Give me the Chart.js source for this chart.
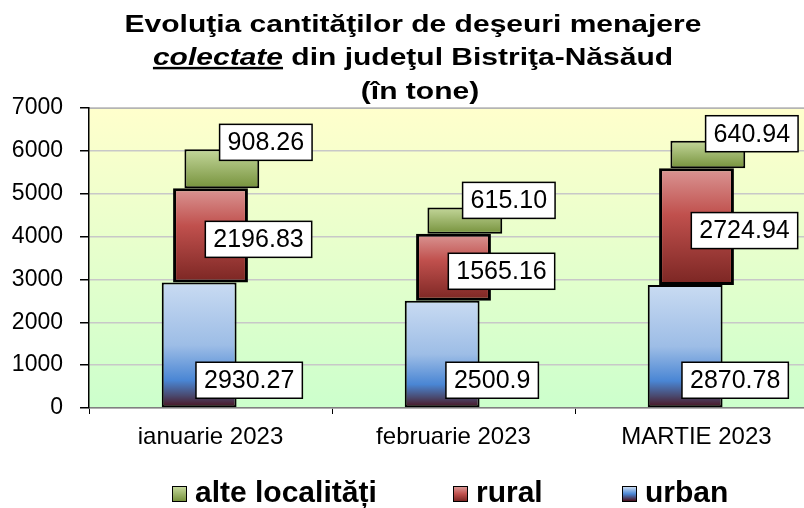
<!DOCTYPE html>
<html>
<head>
<meta charset="utf-8">
<script src="https://cdn.jsdelivr.net/npm/chart.js@4/dist/chart.umd.min.js"></script>
<style>
  html, body { margin: 0; padding: 0; background: #fff; overflow: hidden; }
  body { width: 804px; height: 508px; position: relative; font-family: "Liberation Sans", Arial, sans-serif; }
  canvas { position: absolute; left: 0; top: 0; }
  .title { position: absolute; left: 0; top: 7px; width: 826px; text-align: center;
           font-weight: bold; font-size: 30px; line-height: 40.8px; color: #000;
           transform: scaleY(0.82); transform-origin: top center; }
  .title u { font-style: italic; font-weight: bold; }
  .legend { position: absolute; top: 477px; font-weight: bold; font-size: 30px; line-height: 30px; color: #000; }
  .legend span.box { position: absolute; left: 0; top: 9px; width: 13px; height: 14px;
                     border: 1.5px solid #000; }
  .legend span.txt { position: absolute; left: 23px; top: 0; white-space: nowrap; }
</style>
</head>
<body>
<canvas id="chart" width="820" height="508"></canvas>
<div class="title">
  <div>Evoluţia cantităţilor de deşeuri menajere</div>
  <div><u>colectate</u> din judeţul Bistriţa-Năsăud</div>
  <div style="padding-left:14px">(în tone)</div>
</div>
<div class="legend" style="left:172px"><span class="box" style="background:linear-gradient(#c4d79b,#76923c)"></span><span class="txt">alte localități</span></div>
<div class="legend" style="left:453px"><span class="box" style="background:linear-gradient(#da9694,#c0504d,#7b2623)"></span><span class="txt">rural</span></div>
<div class="legend" style="left:622px"><span class="box" style="background:linear-gradient(#c9dbf2,#4a86d4,#4a0f1a)"></span><span class="txt">urban</span></div>
<script>
// valorile lunare, in tone (asa cum apar pe etichete)
const luni = ['ianuarie 2023', 'februarie 2023', 'MARTIE 2023'];
const urban = ['2930.27', '2500.9', '2870.78'];
const rural = ['2196.83', '1565.16', '2724.94'];
const alte = ['908.26', '615.10', '640.94'];
const yTicks = [0, 1000, 2000, 3000, 4000, 5000, 6000, 7000];

const FONT = '"Liberation Sans", Arial, sans-serif';

// segmente flotante: fiecare porneste de unde se termina cel de dedesubt
const u = urban.map(Number);
const r = rural.map(Number);
const a = alte.map(Number);
const urbanBars = u.map((v, i) => [0, v]);
const ruralBars = r.map((v, i) => [u[i], u[i] + v]);
const alteBars = a.map((v, i) => [u[i] + r[i], u[i] + r[i] + v]);

function barGradient(stops) {
    return function(c) {
        const chart = c.chart;
        if (!chart.chartArea || !c.raw) return stops[0][1];
        const y = chart.scales.y;
        const top = y.getPixelForValue(c.raw[1]);
        const bottom = y.getPixelForValue(c.raw[0]);
        const g = chart.ctx.createLinearGradient(0, top, 0, bottom);
        stops.forEach(s => g.addColorStop(s[0], s[1]));
        return g;
    };
}

const plotBackground = {
    id: 'plotBackground',
    beforeDraw(chart) {
        const {ctx, chartArea: ca} = chart;
        const g = ctx.createLinearGradient(0, ca.top, 0, ca.bottom);
        g.addColorStop(0, '#ffffcc');
        g.addColorStop(1, '#ccffcc');
        ctx.save();
        ctx.fillStyle = g;
        ctx.fillRect(ca.left, ca.top, ca.right - ca.left, ca.bottom - ca.top);
        ctx.strokeStyle = '#a0a0a0';
        ctx.lineWidth = 2;
        ctx.beginPath();
        ctx.moveTo(ca.left, ca.top);
        ctx.lineTo(ca.right, ca.top);
        ctx.stroke();
        ctx.restore();
    }
};

// etichetele cu valori, in casute albe
const valueBoxes = {
    id: 'valueBoxes',
    afterDatasetsDraw(chart) {
        const ctx = chart.ctx;
        ctx.save();
        ctx.font = '25px ' + FONT;
        ctx.textAlign = 'center';
        ctx.textBaseline = 'middle';
        chart.data.datasets.forEach((ds, di) => {
            const meta = chart.getDatasetMeta(di);
            meta.data.forEach((el, i) => {
                const text = ds.labels[i];
                let x = el.x + ds.labelDx;
                let y;
                if (ds.labelPos === 'base') y = el.base - 27;
                else if (ds.labelPos === 'end') y = el.y - 7;
                else y = (el.y + el.base) / 2 + 4;
                const w = ctx.measureText(text).width + 16;
                const h = 36;
                ctx.fillStyle = '#fff';
                ctx.fillRect(x - w / 2, y - h / 2, w, h);
                ctx.strokeStyle = '#000';
                ctx.lineWidth = 1.5;
                ctx.strokeRect(x - w / 2, y - h / 2, w, h);
                ctx.fillStyle = '#000';
                ctx.fillText(text, x, y + 1);
            });
        });
        ctx.restore();
    }
};

new Chart(document.getElementById('chart'), {
    type: 'bar',
    data: {
        labels: luni,
        datasets: [{
            label: 'urban',
            data: urbanBars,
            labels: urban,
            labelPos: 'base',
            labelDx: 50,
            backgroundColor: barGradient([[0, '#c9dbf2'], [0.5, '#9dbde6'], [0.78, '#4a86d4'], [0.9, '#4a4a70'], [1, '#4a0f1a']]),
            borderColor: '#000',
            borderWidth: 2,
            borderSkipped: false
        }, {
            label: 'rural',
            data: ruralBars,
            labels: rural,
            labelPos: 'center',
            labelDx: 48,
            backgroundColor: barGradient([[0, '#da9694'], [0.4, '#c0504d'], [1, '#7b2623']]),
            borderColor: '#000',
            borderWidth: 3,
            borderSkipped: false
        }, {
            label: 'alte localități',
            data: alteBars,
            labels: alte,
            labelPos: 'end',
            labelDx: 44,
            backgroundColor: barGradient([[0, '#c4d79b'], [1, '#76923c']]),
            borderColor: '#000',
            borderWidth: 2,
            borderSkipped: false
        }]
    },
    options: {
        responsive: false,
        animation: false,
        categoryPercentage: 0.14,
        barPercentage: 6.6,
        layout: {
            padding: { top: 108, right: 2, left: 0, bottom: 0 }
        },
        plugins: {
            legend: { display: false },
            title: { display: false },
            tooltip: { enabled: false }
        },
        scales: {
            x: {
                grid: {
                    drawOnChartArea: false,
                    tickLength: 6,
                    tickColor: '#000',
                    offset: true
                },
                border: { color: '#808080', width: 1.5 },
                ticks: {
                    color: '#000',
                    padding: 9,
                    font: { family: FONT, size: 24 }
                },
                afterFit: function(scale) { scale.height = 100; }
            },
            y: {
                min: 0,
                max: 7000,
                afterBuildTicks: function(scale) {
                    scale.ticks = yTicks.map(v => ({ value: v }));
                },
                grid: {
                    color: '#c8c8c8',
                    lineWidth: 1.5,
                    tickLength: 9,
                    tickColor: '#000'
                },
                border: { color: '#000', width: 1.5 },
                ticks: {
                    color: '#000',
                    padding: 17,
                    font: { family: FONT, size: 23 },
                    callback: function(value) { return String(value); }
                },
                afterFit: function(scale) { scale.width = 89; }
            }
        }
    },
    plugins: [plotBackground, valueBoxes]
});
</script>
</body>
</html>
